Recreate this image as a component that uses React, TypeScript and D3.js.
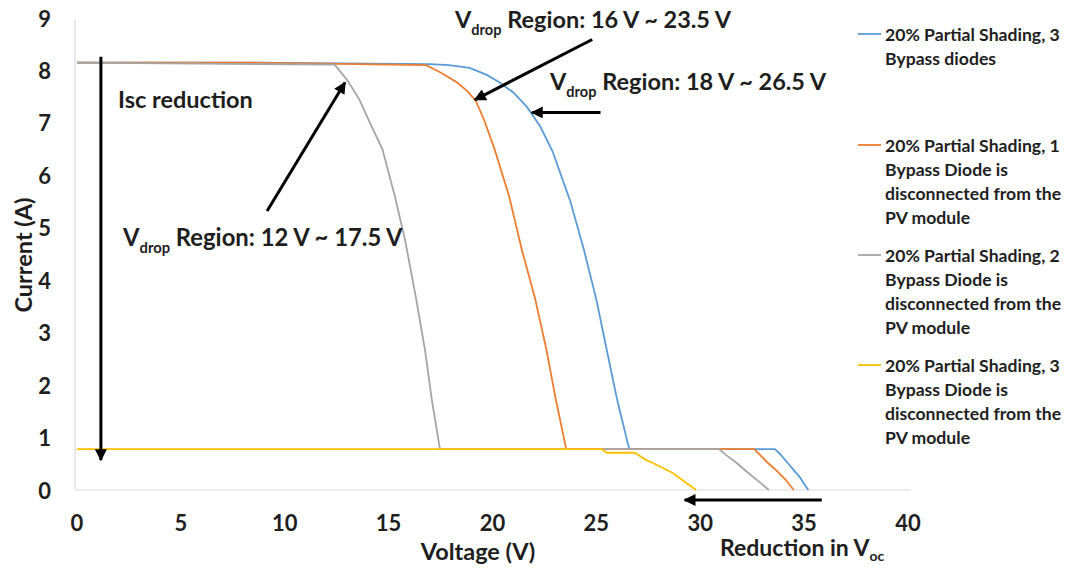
import React from "react";
import * as d3 from "d3";

const W = 1069;
const H = 574;

const xTicks = [0, 5, 10, 15, 20, 25, 30, 35, 40];
const yTicks = [0, 1, 2, 3, 4, 5, 6, 7, 8, 9];

// [Voltage (V), Current (A)]
const blueSeries: [number, number][] = [
  [0, 8.15], [8.5, 8.15], [17.0, 8.12], [17.9, 8.1], [18.9, 8.05], [19.7, 7.92],
  [20.35, 7.77], [21.0, 7.58], [21.65, 7.31], [22.3, 6.93], [22.9, 6.45], [23.3, 6.0],
  [23.75, 5.5], [24.4, 4.58], [25.0, 3.63], [25.5, 2.67], [26.0, 1.72], [26.58, 0.78],
  [33.6, 0.78], [33.9, 0.66], [34.2, 0.52], [34.5, 0.38], [34.8, 0.24], [35.0, 0.12], [35.2, 0],
];
const orangeSeries: [number, number][] = [
  [0, 8.15], [8.5, 8.15], [16.8, 8.1], [17.5, 7.96], [18.3, 7.77], [18.8, 7.6],
  [19.2, 7.42], [19.6, 7.05], [20.1, 6.5], [20.8, 5.6], [21.4, 4.6], [22.05, 3.65],
  [22.6, 2.67], [23.05, 1.72], [23.55, 0.78], [32.6, 0.78], [32.9, 0.66], [33.3, 0.5],
  [33.7, 0.36], [34.1, 0.2], [34.5, 0],
];
const graySeries: [number, number][] = [
  [0, 8.15], [12.4, 8.11], [13.0, 7.82], [13.6, 7.44], [14.1, 7.0], [14.7, 6.5],
  [15.3, 5.6], [15.8, 4.75], [16.3, 3.7], [16.75, 2.67], [17.08, 1.72], [17.47, 0.78],
  [30.9, 0.78], [31.3, 0.65], [31.8, 0.5], [32.3, 0.33], [32.8, 0.17], [33.3, 0],
];
const yellowSeries: [number, number][] = [
  [0, 0.78], [25.27, 0.78], [25.5, 0.71], [26.85, 0.71], [27.4, 0.57], [27.7, 0.52],
  [28.2, 0.42], [28.7, 0.32], [29.0, 0.23], [29.35, 0.13], [29.8, 0],
];

const seriesColors = ["#5B9BD5", "#ED7D31", "#A5A5A5", "#FFC000"];
const seriesData = [blueSeries, orangeSeries, graySeries, yellowSeries];
const legendLabels: string[][] = [
  ["20% Partial Shading, 3", "Bypass diodes"],
  ["20% Partial Shading, 1", "Bypass Diode is", "disconnected from the", "PV module"],
  ["20% Partial Shading, 2", "Bypass Diode is", "disconnected from the", "PV module"],
  ["20% Partial Shading, 3", "Bypass Diode is", "disconnected from the", "PV module"],
];
const legendTops = [34, 145, 255, 365];

const FONT = "Lato, 'Open Sans', sans-serif";
const TXT = "#1e1e1e";

export default function App() {
  const x = d3.scaleLinear().domain([0, 40]).range([77, 908]);
  const y = d3.scaleLinear().domain([0, 9]).range([490, 18]);
  const line = d3
    .line<[number, number]>()
    .x((d) => x(d[0]))
    .y((d) => y(d[1]));

  const arrows: { x1: number; y1: number; x2: number; y2: number }[] = [
    { x1: x(1.15), y1: y(8.26), x2: x(1.15), y2: y(0.57) },
    { x1: x(24.8), y1: y(8.59), x2: x(19.15), y2: y(7.44) },
    { x1: x(25.2), y1: y(7.2), x2: x(21.9), y2: y(7.2) },
    { x1: x(9.15), y1: y(5.32), x2: x(12.9), y2: y(7.77) },
    { x1: x(35.85), y1: y(-0.19), x2: x(29.25), y2: y(-0.19) },
  ];

  const sub = (main: string, rest: string, px: number, py: number, fs: number) => (
    <text x={px} y={py} fontSize={fs} fontWeight="bold" fill={TXT} fontFamily={FONT}>
      {main}
      <tspan fontSize={fs * 0.62} dy={fs * 0.28}>drop</tspan>
      <tspan dy={-fs * 0.28}>{rest}</tspan>
    </text>
  );

  return (
    <svg
      width={W}
      height={H}
      style={{ position: "absolute", left: 0, top: 0, background: "#fff" }}
    >
      <defs>
        <marker
          id="ah"
          viewBox="0 0 10 10"
          refX="9"
          refY="5"
          markerUnits="userSpaceOnUse"
          markerWidth="13"
          markerHeight="12"
          orient="auto"
        >
          <path d="M0,0 L10,5 L0,10 z" fill="#000" />
        </marker>
      </defs>
      <rect x={0} y={0} width={W} height={H} fill="#fff" />

      {/* axes */}
      <line x1={75} y1={20} x2={75} y2={490} stroke="#d9d9d9" strokeWidth={1.2} />
      <line x1={75} y1={490} x2={910} y2={490} stroke="#d9d9d9" strokeWidth={1.2} />

      {yTicks.map((t) => (
        <text
          key={"y" + t}
          x={51}
          y={y(t)}
          textAnchor="end"
          dominantBaseline="central"
          fontSize={22}
          fontWeight="bold"
          fill={TXT}
          fontFamily={FONT}
        >
          {t}
        </text>
      ))}
      {xTicks.map((t) => (
        <text
          key={"x" + t}
          x={x(t)}
          y={522}
          textAnchor="middle"
          dominantBaseline="central"
          fontSize={22}
          fontWeight="bold"
          fill={TXT}
          fontFamily={FONT}
        >
          {t}
        </text>
      ))}

      <text
        transform={`translate(23,255) rotate(-90)`}
        textAnchor="middle"
        dominantBaseline="central"
        fontSize={23.5}
        fontWeight="bold"
        fill={TXT}
        fontFamily={FONT}
      >
        Current (A)
      </text>
      <text
        x={478}
        y={551}
        textAnchor="middle"
        dominantBaseline="central"
        fontSize={23.5}
        fontWeight="bold"
        fill={TXT}
        fontFamily={FONT}
      >
        Voltage (V)
      </text>

      {/* series */}
      {seriesData.map((s, i) => (
        <path
          key={"s" + i}
          d={line(s) || ""}
          fill="none"
          stroke={seriesColors[i]}
          strokeWidth={1.8}
        />
      ))}

      {/* arrows */}
      {arrows.map((a, i) => (
        <line
          key={"a" + i}
          x1={a.x1}
          y1={a.y1}
          x2={a.x2}
          y2={a.y2}
          stroke="#000"
          strokeWidth={3}
          markerEnd="url(#ah)"
        />
      ))}

      {/* annotations */}
      <text x={118} y={108} fontSize={23.5} fontWeight="bold" fill={TXT} fontFamily={FONT}>
        Isc reduction
      </text>
      {sub("V", " Region: 12 V ~ 17.5 V", 123, 246, 23.8)}
      {sub("V", " Region: 16 V ~ 23.5 V", 455, 28, 23.5)}
      {sub("V", " Region: 18 V ~ 26.5 V", 550, 90, 23.5)}
      <text x={720} y={556} fontSize={23} fontWeight="bold" fill={TXT} fontFamily={FONT}>
        Reduction in V
        <tspan fontSize={14} dy={5}>oc</tspan>
      </text>

      {/* legend */}
      {legendLabels.map((lines, i) => (
        <g key={"l" + i}>
          <line
            x1={858}
            x2={881}
            y1={legendTops[i]}
            y2={legendTops[i]}
            stroke={seriesColors[i]}
            strokeWidth={1.8}
          />
          {lines.map((ln, j) => (
            <text
              key={j}
              x={885}
              y={legendTops[i] + j * 24}
              dominantBaseline="central"
              fontSize={17.6}
              fontWeight="bold"
              fill={TXT}
              fontFamily={FONT}
            >
              {ln}
            </text>
          ))}
        </g>
      ))}
    </svg>
  );
}
